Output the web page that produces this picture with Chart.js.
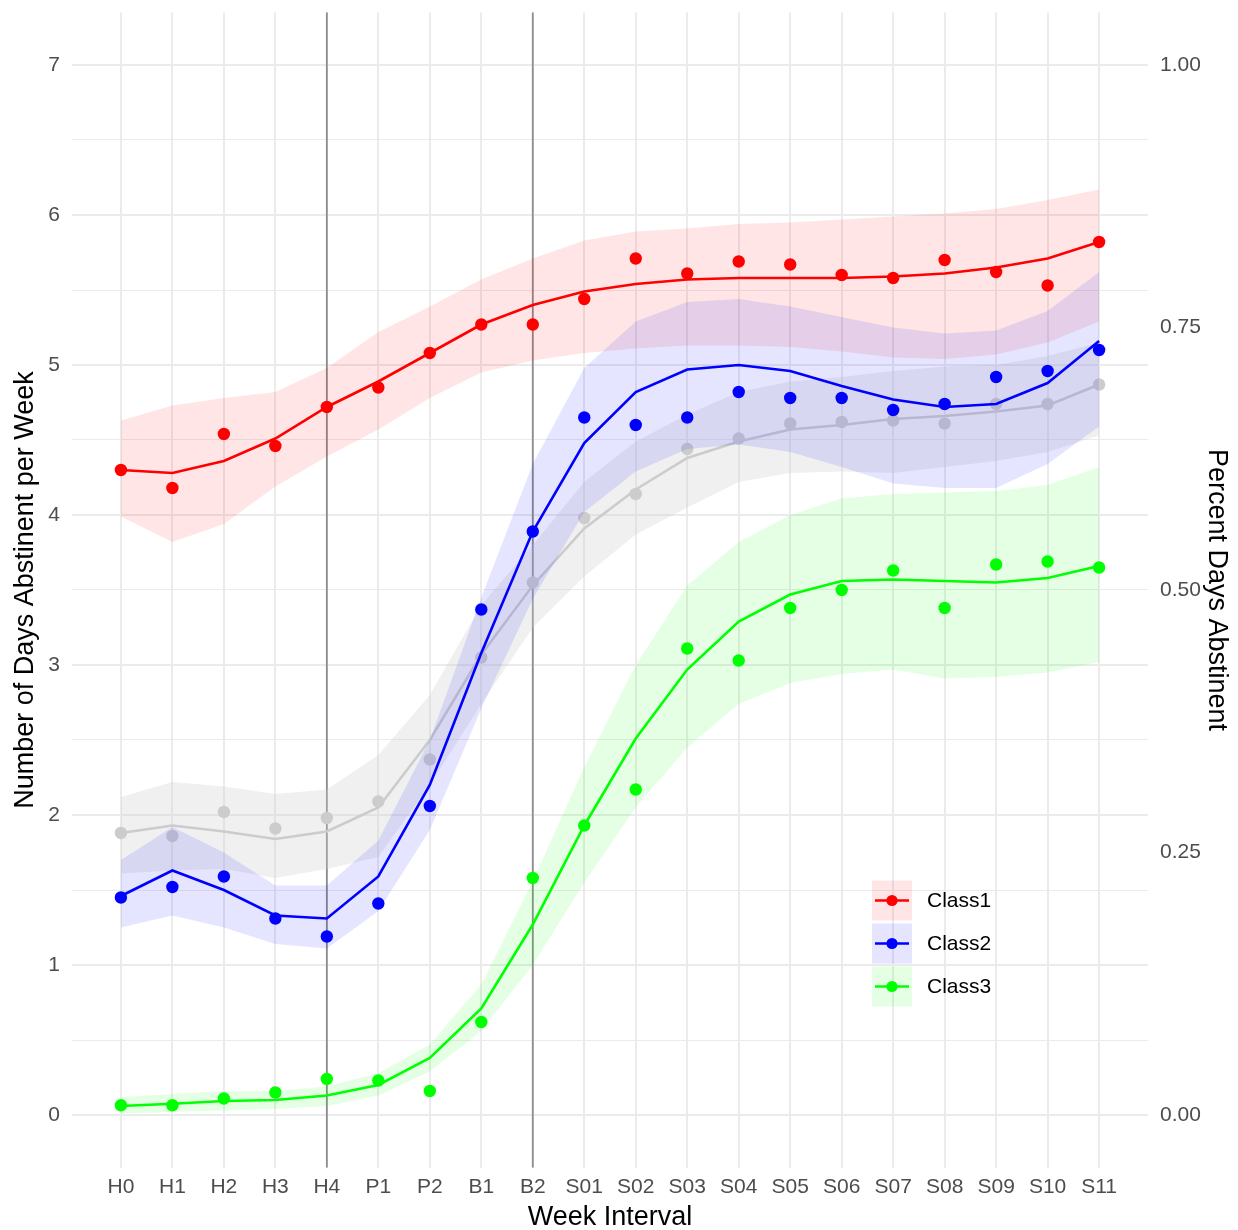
<!DOCTYPE html>
<html>
<head>
<meta charset="utf-8">
<title>Days abstinent per week by class</title>
<script src="https://cdn.jsdelivr.net/npm/chart.js@4.4.1/dist/chart.umd.min.js"></script>
<style>
  html, body { margin: 0; padding: 0; background: #fff; }
  #wrap { width: 1238px; height: 1230px; position: relative; }
</style>
</head>
<body>
<div id="wrap"><canvas id="abstChart"></canvas></div>
<script>
// ===== DATA =====
const weeks = ['H0','H1','H2','H3','H4','P1','P2','B1','B2','S01','S02','S03','S04','S05','S06','S07','S08','S09','S10','S11'];
const phaseBreaks = ['H4', 'B2'];
const dayTicks = [0, 1, 2, 3, 4, 5, 6, 7];
const pctTicks = [0, 0.25, 0.5, 0.75, 1];
const classNames = ['Class1', 'Class2', 'Class3'];

// Class 1: observed means, smoothed fit and band
const class1Obs = [4.30,4.18,4.54,4.46,4.72,4.85,5.08,5.27,5.27,5.44,5.71,5.61,5.69,5.67,5.60,5.58,5.70,5.62,5.53,5.82];
const class1Fit = [4.30,4.28,4.36,4.51,4.72,4.89,5.08,5.27,5.40,5.49,5.54,5.57,5.58,5.58,5.58,5.59,5.61,5.65,5.71,5.82];
const class1Lo  = [3.99,3.82,3.94,4.19,4.39,4.57,4.78,4.95,5.03,5.08,5.11,5.13,5.13,5.12,5.09,5.05,5.04,5.07,5.15,5.29];
const class1Hi  = [4.63,4.73,4.78,4.82,4.98,5.22,5.39,5.57,5.71,5.83,5.89,5.91,5.94,5.95,5.97,5.99,6.01,6.04,6.10,6.17];

// Class 2
const class2Obs = [1.45,1.52,1.59,1.31,1.19,1.41,2.06,3.37,3.89,4.65,4.60,4.65,4.82,4.78,4.78,4.70,4.74,4.92,4.96,5.10];
const class2Fit = [1.46,1.63,1.50,1.33,1.31,1.59,2.20,3.08,3.89,4.48,4.82,4.97,5.00,4.96,4.86,4.77,4.72,4.74,4.88,5.16];
const class2Lo  = [1.25,1.33,1.25,1.14,1.11,1.36,1.90,2.71,3.44,4.02,4.29,4.44,4.47,4.42,4.32,4.21,4.18,4.18,4.34,4.59];
const class2Hi  = [1.70,1.92,1.75,1.53,1.53,1.83,2.50,3.45,4.34,4.98,5.29,5.42,5.44,5.39,5.32,5.25,5.21,5.23,5.36,5.62];

// Class 3
const class3Obs = [0.065,0.065,0.11,0.15,0.24,0.23,0.16,0.62,1.58,1.93,2.17,3.11,3.03,3.38,3.50,3.63,3.38,3.67,3.69,3.65];
const class3Fit = [0.06,0.075,0.093,0.10,0.13,0.20,0.38,0.71,1.27,1.93,2.51,2.97,3.29,3.47,3.56,3.57,3.56,3.55,3.58,3.66];
const class3Lo  = [0.01,0.02,0.03,0.04,0.06,0.13,0.29,0.56,1.00,1.55,2.05,2.45,2.74,2.88,2.94,2.97,2.91,2.92,2.95,3.02];
const class3Hi  = [0.12,0.14,0.16,0.16,0.19,0.28,0.47,0.87,1.56,2.32,3.00,3.53,3.82,4.00,4.11,4.14,4.15,4.16,4.20,4.32];

// All participants (grey, not in legend)
const allObs = [1.88,1.86,2.02,1.91,1.98,2.09,2.37,3.05,3.55,3.98,4.14,4.44,4.51,4.61,4.62,4.63,4.61,4.74,4.74,4.87];
const allFit = [1.88,1.93,1.89,1.84,1.89,2.05,2.50,3.07,3.53,3.91,4.17,4.38,4.49,4.57,4.60,4.64,4.66,4.69,4.73,4.87];
const allLo  = [1.61,1.63,1.64,1.58,1.64,1.72,2.20,2.74,3.25,3.59,3.87,4.05,4.22,4.28,4.29,4.28,4.32,4.36,4.42,4.53];
const allHi  = [2.12,2.22,2.19,2.14,2.17,2.40,2.80,3.40,3.80,4.22,4.49,4.67,4.82,4.89,4.92,4.96,4.99,5.00,5.06,5.15];

// ===== STYLE =====
const FONT = '"Liberation Sans", Arial, Helvetica, sans-serif';
const classColor = ['#ff0000', '#0000ff', '#00ff00'];
const classFill = ['rgba(255,0,0,0.1)', 'rgba(0,0,255,0.1)', 'rgba(0,255,0,0.1)'];
const allColor = '#cccccc';
const allFill = 'rgba(204,204,204,0.3)';
const GRID = '#ebebeb';

Chart.defaults.font.family = FONT;

const pts = arr => arr.map((v, i) => ({ x: i, y: v }));

// upper edge fills down to the lower edge (next dataset)
function band(name, hi, lo, fill, order) {
  return [
    { label: name + ' hi', data: pts(hi), fill: '+1', backgroundColor: fill, borderColor: 'transparent', borderWidth: 0, pointRadius: 0, order },
    { label: name + ' lo', data: pts(lo), fill: false, borderColor: 'transparent', borderWidth: 0, pointRadius: 0, order }
  ];
}
function fitLine(name, fit, color, order) {
  return { label: name + ' fit', data: pts(fit), borderColor: color, borderWidth: 2.6, pointRadius: 0, fill: false, tension: 0, order };
}
function obsPoints(name, obs, color, order) {
  return { label: name, data: pts(obs), showLine: false, pointRadius: 6.2, pointHoverRadius: 6.2, pointBackgroundColor: color, pointBorderWidth: 0, borderColor: color, order };
}

const datasets = [
  // lower order sits on top
  obsPoints('Class1', class1Obs, classColor[0], 0),
  obsPoints('Class2', class2Obs, classColor[1], 0),
  obsPoints('Class3', class3Obs, classColor[2], 0),
  fitLine('Class1', class1Fit, classColor[0], 1),
  fitLine('Class2', class2Fit, classColor[1], 1),
  fitLine('Class3', class3Fit, classColor[2], 1),
  ...band('Class3', class3Hi, class3Lo, classFill[2], 2),
  ...band('Class2', class2Hi, class2Lo, classFill[1], 2),
  ...band('Class1', class1Hi, class1Lo, classFill[0], 2),
  obsPoints('All', allObs, allColor, 3),
  fitLine('All', allFit, allColor, 4),
  ...band('All', allHi, allLo, allFill, 5)
];

// vertical phase markers
const phaseLines = {
  id: 'phaseLines',
  beforeDatasetsDraw(chart) {
    const { ctx, chartArea, scales: { x } } = chart;
    ctx.save();
    ctx.strokeStyle = '#8c8c8c';
    ctx.lineWidth = 1.8;
    phaseBreaks.forEach(w => {
      const px = x.getPixelForValue(weeks.indexOf(w));
      ctx.beginPath();
      ctx.moveTo(px, chartArea.top);
      ctx.lineTo(px, chartArea.bottom);
      ctx.stroke();
    });
    ctx.restore();
  }
};

// legend drawn inside the panel, lower right
const classLegend = {
  id: 'classLegend',
  afterDraw(chart) {
    const { ctx, chartArea } = chart;
    const left = chartArea.left + 800;
    const top = chartArea.top + 868;
    const key = 40, gap = 3;
    ctx.save();
    classNames.forEach((name, i) => {
      const y0 = top + i * (key + gap);
      const cy = y0 + key / 2;
      ctx.fillStyle = classFill[i];
      ctx.fillRect(left, y0, key, key);
      ctx.strokeStyle = classColor[i];
      ctx.lineWidth = 2.6;
      ctx.beginPath();
      ctx.moveTo(left + 3, cy);
      ctx.lineTo(left + key - 3, cy);
      ctx.stroke();
      ctx.fillStyle = classColor[i];
      ctx.beginPath();
      ctx.arc(left + key / 2, cy, 5.6, 0, Math.PI * 2);
      ctx.fill();
      ctx.fillStyle = '#000000';
      ctx.font = '21px ' + FONT;
      ctx.textAlign = 'left';
      ctx.textBaseline = 'middle';
      ctx.fillText(name, left + key + 15, cy + 1);
    });
    ctx.restore();
  }
};

const halfSteps = dayTicks.flatMap(v => v < dayTicks[dayTicks.length - 1] ? [v, v + 0.5] : [v]);

// fixed box sizes for the vertical axes, no extra label padding
const fixWidth = w => s => { s.width = w; s.paddingTop = 0; s.paddingBottom = 0; };

new Chart(document.getElementById('abstChart'), {
  type: 'line',
  data: { datasets },
  plugins: [phaseLines, classLegend],
  options: {
    responsive: true,
    maintainAspectRatio: false,
    animation: false,
    layout: { padding: { top: 12.5, left: 0, right: 0, bottom: 0 } },
    plugins: {
      legend: { display: false },
      tooltip: { enabled: false }
    },
    scales: {
      x: {
        type: 'linear',
        min: -0.95, max: 19.95,
        afterBuildTicks: s => { s.ticks = weeks.map((w, i) => ({ value: i })); },
        afterFit: s => { s.height = 62.5; },
        ticks: { autoSkip: false, maxRotation: 0, padding: 7.5, color: '#4d4d4d', font: { size: 21 }, callback: v => weeks[v] },
        grid: { color: GRID, lineWidth: 2, drawTicks: false },
        border: { display: false },
        title: { display: true, text: 'Week Interval', color: '#000000', font: { size: 27, lineHeight: 1 }, padding: { top: 0, bottom: -1.5 } }
      },
      y: {
        position: 'left',
        min: -0.35, max: 7.35,
        afterBuildTicks: s => { s.ticks = halfSteps.map(v => ({ value: v })); },
        afterFit: fixWidth(72),
        ticks: { padding: 12, color: '#4d4d4d', font: { size: 21, lineHeight: 1 }, callback: v => Number.isInteger(v) ? String(v) : '' },
        grid: { color: GRID, lineWidth: c => Number.isInteger(c.tick && c.tick.value) ? 2 : 1, drawTicks: false },
        border: { display: false },
        title: { display: true, text: 'Number of Days Abstinent per Week', color: '#000000', font: { size: 27, lineHeight: 1 }, padding: { top: 12.5, bottom: 0 } }
      },
      y2: {
        position: 'right',
        min: -0.05, max: 1.05,
        afterBuildTicks: s => { s.ticks = pctTicks.map(v => ({ value: v })); },
        afterFit: fixWidth(90),
        ticks: { padding: 12, color: '#4d4d4d', font: { size: 21, lineHeight: 1 }, callback: v => v.toFixed(2) },
        grid: { display: false, drawTicks: false },
        border: { display: false },
        title: { display: true, text: 'Percent Days Abstinent', color: '#000000', font: { size: 27, lineHeight: 1 }, padding: { top: 8.5, bottom: 0 } }
      }
    }
  }
});
</script>
</body>
</html>
